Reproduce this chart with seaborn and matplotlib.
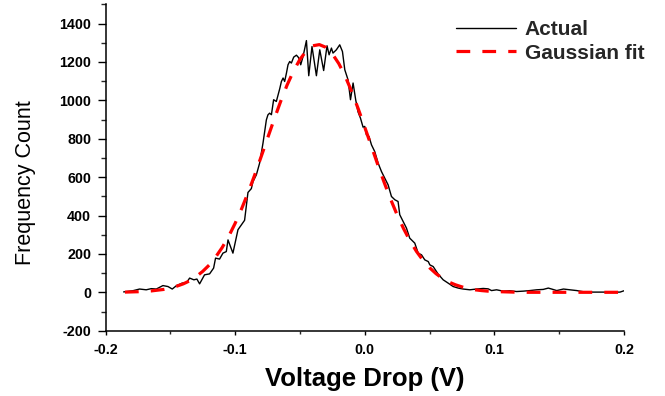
import matplotlib
matplotlib.use("Agg")
import matplotlib.pyplot as plt
from matplotlib.ticker import MultipleLocator
import seaborn as sns
import pandas as pd

# ---- Data ----
actual_v = [-0.1860, -0.1790, -0.1737, -0.1686, -0.1647, -0.1608, -0.1557, -0.1518,
            -0.1485, -0.1454, -0.1408, -0.1377, -0.1351, -0.1318, -0.1295, -0.1274,
            -0.1236, -0.1197, -0.1166, -0.1151, -0.1120, -0.1094, -0.1068, -0.1055,
            -0.1017, -0.0978, -0.0927, -0.0901, -0.0875, -0.0862, -0.0836, -0.0811,
            -0.0785, -0.0759, -0.0747, -0.0734, -0.0720, -0.0703, -0.0682, -0.0656,
            -0.0643, -0.0630, -0.0618, -0.0604, -0.0592, -0.0579, -0.0566, -0.0548,
            -0.0527, -0.0510, -0.0494, -0.0476, -0.0450, -0.0432, -0.0407, -0.0373,
            -0.0347, -0.0317, -0.0291, -0.0275, -0.0257, -0.0245, -0.0219, -0.0193,
            -0.0172, -0.0154, -0.0129, -0.0110, -0.0090, -0.0070, -0.0052, -0.0033,
            -0.0013, 0.0000, 0.0013, 0.0033, 0.0052, 0.0077, 0.0103, 0.0129,
            0.0154, 0.0180, 0.0206, 0.0232, 0.0257, 0.0270, 0.0296, 0.0322,
            0.0347, 0.0386, 0.0412, 0.0438, 0.0463, 0.0490, 0.0502, 0.0528,
            0.0566, 0.0605, 0.0643, 0.0682, 0.0721, 0.0759, 0.0811, 0.0862,
            0.0914, 0.0952, 0.0978, 0.1017, 0.1068, 0.1120, 0.1171, 0.1222,
            0.1274, 0.1326, 0.1377, 0.1416, 0.1442, 0.1481, 0.1533, 0.1583,
            0.1635, 0.1686, 0.1763, 0.1841, 0.1917, 0.1969, 0.2000]
actual_count = [2, 8, 17, 13, 19, 17, 35, 30,
                17, 34, 48, 48, 74, 65, 69, 44,
                91, 96, 126, 178, 173, 204, 212, 273,
                204, 326, 375, 520, 540, 577, 612, 673,
                777, 898, 924, 933, 925, 1003, 994, 1060,
                1098, 1116, 1098, 1142, 1185, 1202, 1194, 1225,
                1235, 1222, 1185, 1228, 1311, 1128, 1280, 1128,
                1263, 1155, 1284, 1237, 1272, 1246, 1263, 1289,
                1254, 1159, 1107, 1003, 1090, 1003, 940, 907,
                860, 864, 820, 811, 768, 733, 673, 629,
                595, 560, 499, 482, 473, 404, 369, 334,
                282, 256, 204, 195, 169, 160, 143, 134,
                95, 65, 48, 30, 22, 17, 13, 17,
                20, 18, 9, 13, 6, 8, 4, 6,
                9, 13, 15, 22, 17, 9, 17, 13,
                9, 3, 1, 1, 1, 1, 8]

fit_v = [-0.185, -0.180, -0.175, -0.170, -0.165, -0.160, -0.155, -0.150, -0.145, -0.140,
         -0.135, -0.130, -0.125, -0.120, -0.115, -0.110, -0.105, -0.100, -0.095, -0.090,
         -0.085, -0.080, -0.075, -0.070, -0.065, -0.060, -0.055, -0.050, -0.045, -0.040,
         -0.035, -0.030, -0.025, -0.020, -0.015, -0.010, -0.005, 0.000, 0.005, 0.010,
         0.015, 0.020, 0.025, 0.030, 0.035, 0.040, 0.045, 0.050, 0.055, 0.060,
         0.065, 0.070, 0.075, 0.080, 0.085, 0.090, 0.095, 0.100, 0.105, 0.110,
         0.115, 0.120, 0.125, 0.130, 0.135, 0.140, 0.145, 0.150, 0.155, 0.160,
         0.165, 0.170, 0.175, 0.180, 0.185, 0.190, 0.195, 0.200]
fit_count = [1, 2, 3, 5, 7, 11, 15, 22, 32, 44,
             60, 82, 109, 142, 184, 233, 291, 359, 435, 519,
             609, 705, 802, 899, 992, 1078, 1152, 1213, 1258, 1284,
             1290, 1276, 1242, 1191, 1124, 1044, 955, 860, 763, 666,
             572, 484, 403, 331, 267, 212, 166, 128, 97, 72,
             53, 39, 28, 19, 13, 9, 6, 4, 3, 2,
             1, 1, 0, 0, 0, 0, 0, 0, 0, 0,
             0, 0, 0, 0, 0, 0, 0, 0]

x_ticks = [-0.2, -0.1, 0.0, 0.1, 0.2]
x_tick_labels = ["-0.2", "-0.1", "0.0", "0.1", "0.2"]
y_ticks = [-200, 0, 200, 400, 600, 800, 1000, 1200, 1400]
x_label = "Voltage Drop (V)"
y_label = "Frequency Count"
series_labels = ["Actual", "Gaussian fit"]

# ---- Style ----
sns.set_theme(style="ticks")
plt.rcParams["font.family"] = ["Liberation Sans", "DejaVu Sans"]
plt.rcParams["axes.unicode_minus"] = False

fig = plt.figure(figsize=(6.65, 3.96), dpi=100)
ax = fig.add_axes([105.5 / 665, 1 - 330.7 / 396, (624 - 105.5) / 665, (330.7 - 4.3) / 396])

df_act = pd.DataFrame({"v": actual_v, "c": actual_count})
df_fit = pd.DataFrame({"v": fit_v, "c": fit_count})

sns.lineplot(data=df_act, x="v", y="c", ax=ax, color="black", lw=1.0,
             label=series_labels[0], sort=False)
sns.lineplot(data=df_fit, x="v", y="c", ax=ax, color="#ff0000", lw=2.3,
             linestyle=(0, (4.3, 3.8)), label=series_labels[1], sort=False)

ax.set_xlim(-0.2, 0.2)
ax.set_ylim(-200, 1500)
ax.xaxis.set_minor_locator(MultipleLocator(0.05))
ax.yaxis.set_minor_locator(MultipleLocator(100))
ax.set_yticks(y_ticks)
ax.set_xticks(x_ticks)
ax.set_xticklabels(x_tick_labels)

for s in ["top", "right"]:
    ax.spines[s].set_visible(False)
for s in ["left", "bottom"]:
    ax.spines[s].set_linewidth(1.1)
    ax.spines[s].set_color("black")

ax.tick_params(axis="y", which="major", direction="out", length=5.8, width=1.0,
               pad=4.5, labelsize=10.3, colors="black")
ax.tick_params(axis="y", which="minor", direction="out", length=3.6, width=1.0)
ax.tick_params(axis="x", which="major", direction="out", length=3.2, width=1.0,
               pad=5.5, labelsize=10.3, colors="black")
ax.tick_params(axis="x", which="minor", direction="out", length=2.0, width=1.0)
for lab in ax.get_xticklabels() + ax.get_yticklabels():
    lab.set_fontweight("bold")

ax.set_xlabel(x_label, fontsize=18.5, fontweight="bold", labelpad=7, color="black")
ax.set_ylabel(y_label, fontsize=15.5, fontweight="normal", color="black")
ax.yaxis.set_label_coords((36 - 105.5) / 518.5, (330.7 - 182.5) / 326.4)

leg = ax.legend(loc="upper left", bbox_to_anchor=(456 / 665, 1 - 20 / 396),
                bbox_transform=fig.transFigure, frameon=False,
                prop={"size": 15, "weight": "bold"}, handlelength=2.9,
                handletextpad=0.4, labelspacing=0.22, borderpad=0, borderaxespad=0)

ax.set_facecolor("white")
fig.patch.set_facecolor("white")
fig.savefig("out.png", dpi=100)
